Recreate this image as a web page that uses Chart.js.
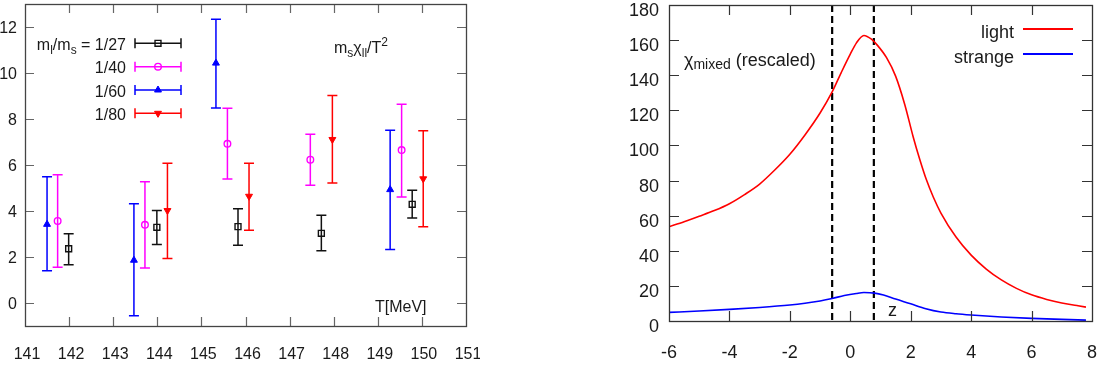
<!DOCTYPE html>
<html><head><meta charset="utf-8">
<script src="https://cdn.jsdelivr.net/npm/chart.js@4/dist/chart.umd.min.js"></script>
<style>
html,body{margin:0;padding:0;background:#fff;}
body{width:1104px;height:370px;position:relative;overflow:hidden;font-family:'Liberation Sans',Arial,sans-serif;color:#1a1a1a;}
canvas{position:absolute;top:0;}
.t{position:absolute;white-space:nowrap;}
.f16{font-size:16px;line-height:20px;}
.f18{font-size:18px;line-height:22px;}
.sb{position:relative;top:4px;font-size:12px;}
.sbm{position:relative;top:3px;font-size:14px;}
.sp{position:relative;top:-7px;font-size:12px;}
</style></head>
<body>
<canvas id="c1" width="480" height="370" style="left:0"></canvas>
<canvas id="c2" width="484" height="370" style="left:620px"></canvas>

<div class="t f16" style="left:0;width:126px;text-align:right;top:34.8px">m<span class="sb">l</span>/m<span class="sb">s</span> = 1/27</div>
<div class="t f16" style="left:0;width:126px;text-align:right;top:58.2px">1/40</div>
<div class="t f16" style="left:0;width:126px;text-align:right;top:81.5px">1/60</div>
<div class="t f16" style="left:0;width:126px;text-align:right;top:104.8px">1/80</div>
<div class="t f16" style="left:334px;top:37.5px">m<span class="sb">s</span>χ<span class="sb">ll</span>/T<span class="sp">2</span></div>
<div class="t f16" style="left:375px;top:296.5px">T[MeV]</div>

<div class="t f18" style="left:684px;top:48.8px">χ<span class="sbm">mixed</span> (rescaled)</div>
<div class="t f18" style="left:888px;top:299.3px">z</div>
<div class="t f18" style="left:800px;width:214px;text-align:right;top:21px">light</div>
<div class="t f18" style="left:800px;width:214px;text-align:right;top:46px">strange</div>

<script>
// ---------- Left panel data: m_s chi_ll / T^2 vs T[MeV] ----------
const T27  = [141.99, 143.99, 145.83, 147.72, 149.78];
const Y27  = [2.36, 3.29, 3.32, 3.03, 4.29];
const LO27 = [1.66, 2.54, 2.51, 2.27, 3.70];
const HI27 = [3.01, 4.02, 4.10, 3.82, 4.90];

const T40  = [141.74, 143.72, 145.59, 147.47, 149.54];
const Y40  = [3.57, 3.40, 6.92, 6.23, 6.65];
const LO40 = [1.55, 1.52, 5.39, 5.12, 4.61];
const HI40 = [5.58, 5.27, 8.47, 7.34, 8.64];

const T60  = [141.50, 143.47, 145.33, 149.28];
const Y60  = [3.42, 1.86, 10.43, 4.93];
const LO60 = [1.40, -0.55, 8.48, 2.33];
const HI60 = [5.49, 4.32, 12.34, 7.51];

const T80  = [144.23, 146.08, 147.97, 150.03];
const Y80  = [4.02, 4.64, 7.11, 5.40];
const LO80 = [1.94, 3.16, 5.22, 3.32];
const HI80 = [6.08, 6.08, 9.02, 7.49];

const LEFT_X_TICK_MARKS = [142,143,144,145,146,147,148,149,150];
const LEFT_Y_TICKS = [0,2,4,6,8,10,12];

// ---------- Right panel data: chi_mixed (rescaled) vs z ----------
const X_LIGHT = [-6,-5.5,-5,-4.5,-4,-3.5,-3,-2.5,-2,-1.5,-1,-0.6,-0.3,0,0.2,0.45,0.7,0.9,1.2,1.5,1.8,2.08,2.3,2.52,2.75,3,3.5,4,4.5,5,5.5,6,6.5,7,7.5,7.8];
const Y_LIGHT = [53.7,56.6,59.7,62.9,66.8,72.0,78.0,86.0,95.0,106,118.5,130.5,141.5,152,158.3,162.6,160.5,157,150,139.5,123.5,105,92,80.4,70.5,61.5,47.8,37.5,29.6,23.4,18.6,14.9,12.3,10.3,8.8,7.9];
const X_STRANGE = [-6,-5,-4,-3,-2,-1.5,-1,-0.6,-0.2,0.2,0.45,0.8,1.1,1.5,2,2.5,3,3.5,4,5,6,7,7.8];
const Y_STRANGE = [4.9,5.7,6.6,7.7,9.1,10.1,11.4,12.8,14.5,15.7,16.2,15.9,14.8,12.5,9.8,7.0,5.1,4.1,3.4,2.3,1.5,0.9,0.5];
const DASH_X = [-0.6, 0.78];
const RIGHT_X_TICK_MARKS = [-4,-2,0,2,4,6];
const RIGHT_Y_TICK_MARKS = [20,40,60,80,100,120,140,160];

const FONT = "'Liberation Sans', Arial, sans-serif";
const pts = (xs, ys) => xs.map((x, i) => ({x, y: ys[i]}));
const noPad = s => { s.paddingLeft = 0; s.paddingRight = 0; s.paddingTop = 0; s.paddingBottom = 0; };

function framePlugin(xMarks, yMarks, frameColor, tickColor, len) {
  return {
    id: 'frame',
    afterDatasetsDraw(chart) {
      const {ctx, chartArea: a, scales: {x, y}} = chart;
      ctx.save();
      ctx.lineWidth = 1.2;
      ctx.strokeStyle = tickColor;
      ctx.beginPath();
      xMarks.forEach(v => {
        const px = Math.round(x.getPixelForValue(v)) + 0.5;
        ctx.moveTo(px, a.bottom); ctx.lineTo(px, a.bottom - len);
        ctx.moveTo(px, a.top); ctx.lineTo(px, a.top + len);
      });
      yMarks.forEach(v => {
        const py = Math.round(y.getPixelForValue(v)) + 0.5;
        ctx.moveTo(a.left, py); ctx.lineTo(a.left + len, py);
        ctx.moveTo(a.right, py); ctx.lineTo(a.right - len, py);
      });
      ctx.stroke();
      ctx.strokeStyle = frameColor;
      ctx.lineWidth = 1.3;
      ctx.strokeRect(Math.round(a.left) + 0.5, Math.round(a.top) + 0.5,
                     Math.round(a.right - a.left), Math.round(a.bottom - a.top));
      ctx.restore();
    }
  };
}

function drawMarker(ctx, style, r, rot, x, y, fill) {
  ctx.beginPath();
  if (style === 'rect') {
    const s = r / Math.SQRT2;
    ctx.rect(x - s, y - s, 2 * s, 2 * s);
  } else if (style === 'circle') {
    ctx.arc(x, y, r, 0, Math.PI * 2);
  } else {
    let rad = rot * Math.PI / 180;
    ctx.moveTo(x + Math.sin(rad) * r, y - Math.cos(rad) * r);
    rad += 2 * Math.PI / 3;
    ctx.lineTo(x + Math.sin(rad) * r, y - Math.cos(rad) * r);
    rad += 2 * Math.PI / 3;
    ctx.lineTo(x + Math.sin(rad) * r, y - Math.cos(rad) * r);
    ctx.closePath();
  }
  if (fill) ctx.fill();
  ctx.stroke();
}

const errorBarPlugin = {
  id: 'errbars',
  beforeDatasetsDraw(chart) {
    const {ctx, scales: {x, y}} = chart;
    chart.data.datasets.forEach(ds => {
      ctx.save();
      ctx.strokeStyle = ds.borderColor;
      ctx.lineWidth = 1.5;
      ctx.beginPath();
      ds.data.forEach((p, i) => {
        const px = x.getPixelForValue(p.x);
        const lo = y.getPixelForValue(ds.errLo[i]);
        const hi = y.getPixelForValue(ds.errHi[i]);
        ctx.moveTo(px, lo); ctx.lineTo(px, hi);
        ctx.moveTo(px - 5, lo); ctx.lineTo(px + 5, lo);
        ctx.moveTo(px - 5, hi); ctx.lineTo(px + 5, hi);
      });
      ctx.stroke();
      ctx.restore();
    });
  },
  afterDraw(chart) {
    // legend keys (error-bar style samples)
    const ctx = chart.ctx;
    const rows = [43.3, 66.7, 90, 113.3];
    chart.data.datasets.forEach((ds, i) => {
      const yy = rows[i];
      ctx.save();
      ctx.strokeStyle = ds.borderColor;
      ctx.fillStyle = ds.borderColor;
      ctx.lineWidth = 1.5;
      ctx.beginPath();
      ctx.moveTo(135, yy); ctx.lineTo(181, yy);
      ctx.moveTo(135, yy - 5); ctx.lineTo(135, yy + 5);
      ctx.moveTo(181, yy - 5); ctx.lineTo(181, yy + 5);
      ctx.stroke();
      ctx.lineWidth = ds.pointBorderWidth;
      drawMarker(ctx, ds.pointStyle, ds.pointRadius, ds.pointRotation || 0, 158, yy, ds.filled);
      ctx.restore();
    });
  }
};

const mk = (label, xs, ys, lo, hi, color, style, r, rot, filled) => ({
  label, data: pts(xs, ys), errLo: lo, errHi: hi,
  borderColor: color, backgroundColor: filled ? color : 'rgba(0,0,0,0)',
  pointStyle: style, pointRadius: r, pointRotation: rot, pointBorderWidth: filled ? 1 : 1.4,
  filled, showLine: false
});

new Chart(document.getElementById('c1'), {
  type: 'scatter',
  data: {
    datasets: [
      mk('1/27', T27, Y27, LO27, HI27, '#111111', 'rect', 4.2, 0, false),
      mk('1/40', T40, Y40, LO40, HI40, '#ff00ff', 'circle', 3.3, 0, false),
      mk('1/60', T60, Y60, LO60, HI60, '#0000ff', 'triangle', 4, 0, true),
      mk('1/80', T80, Y80, LO80, HI80, '#ff0000', 'triangle', 4, 180, true)
    ]
  },
  options: {
    responsive: false, animation: false, devicePixelRatio: 1, events: [],
    layout: {autoPadding: false, padding: {left: 0, right: 14, top: 4, bottom: 0}},
    plugins: {legend: {display: false}, tooltip: {enabled: false}},
    scales: {
      x: {
        type: 'linear', min: 141, max: 151,
        grid: {display: false, drawTicks: false}, border: {display: false},
        ticks: {stepSize: 1, autoSkip: false, maxRotation: 0, padding: 19, labelOffset: 2,
                color: '#1a1a1a', font: {family: FONT, size: 16}},
        afterFit(s) { s.height = 44; noPad(s); }
      },
      y: {
        type: 'linear', min: -1, max: 13,
        grid: {display: false, drawTicks: false}, border: {display: false},
        afterBuildTicks(s) { s.ticks = LEFT_Y_TICKS.map(v => ({value: v})); },
        ticks: {padding: 8, labelOffset: 2, color: '#1a1a1a', font: {family: FONT, size: 16}},
        afterFit(s) { s.width = 25; noPad(s); }
      }
    }
  },
  plugins: [errorBarPlugin, framePlugin(LEFT_X_TICK_MARKS, LEFT_Y_TICKS, '#444', '#666', 9)]
});

const legendLinePlugin = {
  id: 'legendLines',
  afterDraw(chart) {
    const ctx = chart.ctx;
    [[29, '#ff0000'], [54, '#0000ff']].forEach(([yy, c]) => {
      ctx.save();
      ctx.strokeStyle = c; ctx.lineWidth = 1.8;
      ctx.beginPath(); ctx.moveTo(403, yy); ctx.lineTo(453, yy); ctx.stroke();
      ctx.restore();
    });
  }
};

new Chart(document.getElementById('c2'), {
  type: 'line',
  data: {
    datasets: [
      {label: 'light', data: pts(X_LIGHT, Y_LIGHT), borderColor: '#ff0000', borderWidth: 1.6,
       pointRadius: 0, cubicInterpolationMode: 'monotone', fill: false},
      {label: 'strange', data: pts(X_STRANGE, Y_STRANGE), borderColor: '#0000ff', borderWidth: 1.6,
       pointRadius: 0, cubicInterpolationMode: 'monotone', fill: false},
      ...DASH_X.map(v => ({label: 'dash', data: [{x: v, y: 180}, {x: v, y: 0}], borderColor: '#000',
        borderWidth: 2.2, borderDash: [7, 4], pointRadius: 0, fill: false}))
    ]
  },
  options: {
    responsive: false, animation: false, devicePixelRatio: 1, events: [],
    layout: {autoPadding: false, padding: {left: 0, right: 12, top: 5, bottom: 0}},
    plugins: {legend: {display: false}, tooltip: {enabled: false}},
    scales: {
      x: {
        type: 'linear', min: -6, max: 8,
        grid: {display: false, drawTicks: false}, border: {display: false},
        ticks: {stepSize: 2, autoSkip: false, maxRotation: 0, padding: 21,
                color: '#1a1a1a', font: {family: FONT, size: 18}},
        afterFit(s) { s.height = 49; noPad(s); }
      },
      y: {
        type: 'linear', min: 0, max: 180,
        grid: {display: false, drawTicks: false}, border: {display: false},
        ticks: {stepSize: 20, padding: 10, labelOffset: 6, color: '#1a1a1a', font: {family: FONT, size: 18}},
        afterFit(s) { s.width = 49; noPad(s); }
      }
    }
  },
  plugins: [framePlugin(RIGHT_X_TICK_MARKS, RIGHT_Y_TICK_MARKS, '#333', '#333', 10), legendLinePlugin]
});
</script>
</body></html>
